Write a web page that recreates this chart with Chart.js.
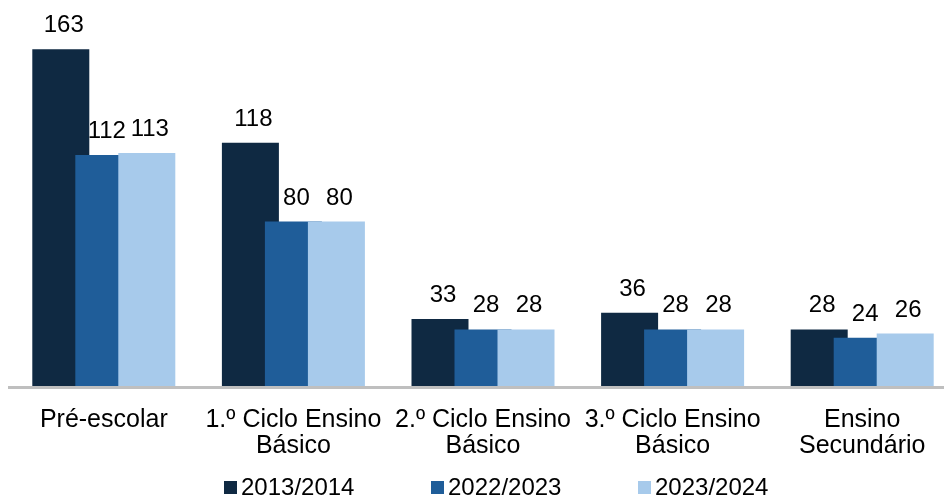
<!DOCTYPE html>
<html>
<head>
<meta charset="utf-8">
<script src="https://cdn.jsdelivr.net/npm/chart.js@4.4.1/dist/chart.umd.min.js"></script>
<style>
  html, body { margin: 0; padding: 0; overflow: hidden; background: #fff; }
  canvas { display: block; }
</style>
</head>
<body>
<canvas id="chart" width="960" height="495"></canvas>
<script>
let categories = [
    'Pré-escolar',
    ['1.º Ciclo Ensino', 'Básico'],
    ['2.º Ciclo Ensino', 'Básico'],
    ['3.º Ciclo Ensino', 'Básico'],
    ['Ensino', 'Secundário']
];
let years = ['2013/2014', '2022/2023', '2023/2024'];
let values2013 = [163, 118, 33, 36, 28];
let values2022 = [112, 80, 28, 28, 24];
let values2023 = [113, 80, 28, 28, 26];
let colors = ['#0f2942', '#1f5d99', '#a7caeb'];

let fontFamily = '"Liberation Sans", Arial, sans-serif';

// chart.js paints the first dataset on top; the bars overlap, so paint
// them first-to-last instead (later year sits over the earlier one)
let forwardDraw = {
    id: 'forwardDraw',
    beforeDatasetsDraw(chart) {
        chart.getSortedVisibleDatasetMetas().forEach(meta => meta.controller.draw());
        return false;
    }
};

// numbers above each bar + legend row at the bottom
let labelsAndLegend = {
    id: 'labelsAndLegend',
    afterDraw(chart) {
        let ctx = chart.ctx;
        ctx.save();
        ctx.font = '24px ' + fontFamily;
        ctx.fillStyle = '#000';
        ctx.textAlign = 'center';
        ctx.textBaseline = 'alphabetic';
        chart.data.datasets.forEach((ds, d) => {
            chart.getDatasetMeta(d).data.forEach((bar, i) => {
                ctx.fillText(ds.data[i], bar.x + 3, bar.y - 17);
            });
        });

        ctx.textAlign = 'left';
        chart.data.datasets.forEach((ds, d) => {
            let x = 224 + d * 207;
            ctx.fillStyle = ds.backgroundColor;
            ctx.fillRect(x, 481, 13, 13);
            ctx.fillStyle = '#000';
            ctx.fillText(ds.label, x + 17, 495);
        });
        ctx.restore();
    }
};

let datasets = [values2013, values2022, values2023].map((vals, i) => ({
    label: years[i],
    data: vals,
    backgroundColor: colors[i],
    borderWidth: 0,
    categoryPercentage: 0.6804,
    barPercentage: 1.3256
}));

new Chart(document.getElementById('chart'), {
    type: 'bar',
    data: {
        labels: categories,
        datasets: datasets
    },
    options: {
        responsive: false,
        animation: false,
        layout: {
            padding: {top: 14, left: 9, right: 3, bottom: 16.5}
        },
        plugins: {
            legend: {display: false},
            tooltip: {enabled: false}
        },
        scales: {
            x: {
                grid: {display: false, drawTicks: false},
                border: {display: true, color: '#bfbfbf', width: 3, z: 1},
                ticks: {
                    color: '#000',
                    padding: 19,
                    maxRotation: 0,
                    autoSkip: false,
                    font: {family: fontFamily, size: 25, lineHeight: 1.06}
                }
            },
            y: {
                display: false,
                min: 0,
                max: 180
            }
        }
    },
    plugins: [forwardDraw, labelsAndLegend]
});
</script>
</body>
</html>
